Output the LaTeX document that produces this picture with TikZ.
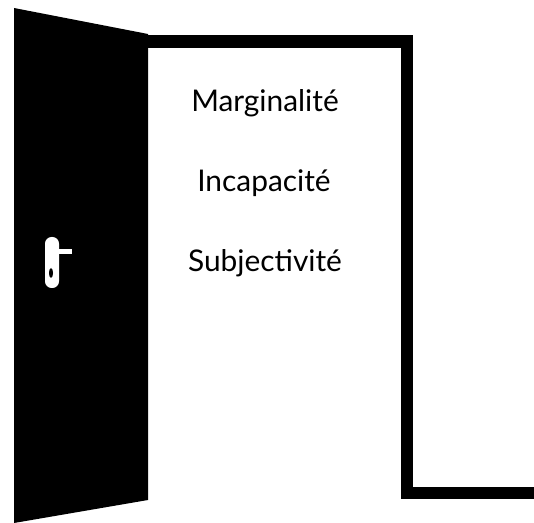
\documentclass[tikz,border=0pt]{standalone}
\usepackage{fontspec}
\setmainfont{Lato}

\begin{document}
\begin{tikzpicture}[x=0.75pt, y=-0.75pt,
  word/.style={anchor=base, font=\fontsize{22.4}{26}\selectfont}]
\useasboundingbox (0,0) rectangle (534,523);
% Frame
\draw[line width=9.4pt] (148,41.5) -- (407,41.5) -- (407,493) -- (534,493);

% Door
\fill[black] (14,8) -- (148,34) -- (148,500) -- (14,523) -- cycle;

% Handle
\fill[white, rounded corners=5pt] (45,237) rectangle (59,288);
\fill[white] (57,249) rectangle (72,254);
\fill[black] (51,273) ellipse [x radius=2, y radius=5];

% Nodes
\node[word] (marg) at (265,112) {Marginalité};
\node[word] (incap) at (264,192) {Incapacité};
\node[word] (subj) at (265,272) {Subjectivité};
\end{tikzpicture}
\end{document}
